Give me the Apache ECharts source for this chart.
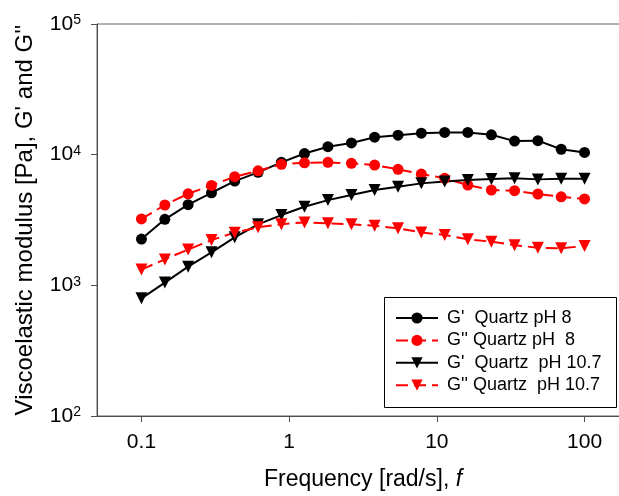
<!DOCTYPE html>
<html>
<head>
<meta charset="utf-8">
<script src="https://cdn.jsdelivr.net/npm/echarts@6/dist/echarts.min.js"></script>
<style>
  html, body { margin: 0; padding: 0; background: #fff; }
  #chart { width: 619px; height: 496px; }
</style>
</head>
<body>
<div id="chart"></div>
<script>
// frequency points [rad/s]
var freq = [0.1, 0.144, 0.207, 0.298, 0.428, 0.616, 0.886, 1.27, 1.83, 2.64,
  3.79, 5.46, 7.85, 11.3, 16.2, 23.4, 33.6, 48.3, 69.5, 100]
// G' and G'' [Pa]
var gp8 = [2260, 3200, 4140, 5110, 6280, 7320, 8730, 10200, 11500, 12300,
  13600, 14100, 14600, 14800, 14800, 14200, 12700, 12800, 11000, 10400]
var gpp8 = [3220, 4120, 5020, 5820, 6780, 7530, 8430, 8670, 8730, 8580,
  8330, 7720, 7110, 6590, 5850, 5360, 5300, 5000, 4760, 4580]
var gp107 = [795, 1050, 1390, 1790, 2330, 2930, 3450, 3990, 4490, 4910,
  5360, 5680, 6030, 6230, 6390, 6510, 6590, 6470, 6540, 6540]
var gpp107 = [1320, 1580, 1880, 2220, 2530, 2780, 2940, 3030, 2980, 2930,
  2860, 2730, 2540, 2430, 2250, 2160, 2030, 1940, 1920, 2000]
var xTicks = [0.1, 1, 10, 100]
var yTicks = [100, 1000, 10000, 100000]
var names = ["G'  Quartz pH 8", "G'' Quartz pH  8", "G'  Quartz  pH 10.7", "G'' Quartz  pH 10.7"]

var font = '"Liberation Sans", Arial, sans-serif'
var axisColor = '#4d4d4d'

function pairs (ys) {
  return freq.map(function (f, i) { return [f, ys[i]] })
}

function makeSeries (name, ys, color, symbol, dashed) {
  return {
    name: name,
    type: 'line',
    data: pairs(ys),
    symbol: symbol,
    symbolSize: symbol === 'circle' ? 11 : 12,
    symbolRotate: symbol === 'triangle' ? 180 : 0,
    itemStyle: { color: color },
    lineStyle: { color: color, width: 2, type: dashed ? [12, 6] : 'solid' },
    emphasis: { disabled: true },
    animation: false
  }
}

var chart = echarts.init(document.getElementById('chart'))
chart.setOption({
  backgroundColor: '#fff',
  textStyle: { fontFamily: font },
  // plot runs past the right edge of the picture (max 200)
  grid: {
    left: 97,
    top: 24,
    width: 532,
    height: 392,
    outerBoundsMode: 'none',
    containLabel: false,
    show: true,
    borderColor: '#666',
    borderWidth: 1
  },
  xAxis: {
    type: 'log',
    logBase: 10,
    min: 0.05,
    max: 200,
    name: 'Frequency [rad/s], {i|f}',
    nameLocation: 'middle',
    nameGap: 52,
    nameTextStyle: {
      fontSize: 23,
      color: '#000',
      fontFamily: font,
      rich: { i: { fontSize: 23, fontStyle: 'italic', color: '#000', fontFamily: font } }
    },
    axisLine: { show: true, lineStyle: { color: axisColor, width: 1 } },
    axisTick: { show: true, inside: false, length: 6, lineStyle: { color: axisColor }, customValues: xTicks },
    axisLabel: {
      fontSize: 21,
      color: '#000',
      margin: 16,
      customValues: xTicks,
      formatter: function (v) { return String(v) }
    },
    splitLine: { show: false },
    minorTick: { show: false }
  },
  yAxis: {
    type: 'log',
    logBase: 10,
    min: 100,
    max: 100000,
    name: "Viscoelastic modulus [Pa], G' and G''",
    nameLocation: 'middle',
    nameGap: 60,
    nameTextStyle: { fontSize: 24, color: '#000', fontFamily: font },
    axisLine: { show: true, lineStyle: { color: axisColor, width: 1 } },
    axisTick: { show: true, inside: false, length: 6, lineStyle: { color: axisColor }, customValues: yTicks },
    axisLabel: {
      fontSize: 21,
      color: '#000',
      margin: 16,
      customValues: yTicks,
      formatter: function (v) {
        return '{b|10}{s|' + Math.round(Math.log10(v)) + '}'
      },
      rich: {
        b: { fontSize: 21, color: '#000', fontFamily: font, lineHeight: 21 },
        s: { fontSize: 14, color: '#000', fontFamily: font, verticalAlign: 'top', lineHeight: 14, padding: [0, 0, 6, 0] }
      }
    },
    splitLine: { show: false },
    minorTick: { show: false }
  },
  legend: {
    orient: 'vertical',
    left: 395,
    top: 308,
    itemWidth: 42,
    itemHeight: 14,
    itemGap: 2.4,
    padding: 0,
    selectedMode: false,
    data: names,
    textStyle: { fontSize: 18, color: '#000', fontFamily: font, lineHeight: 20, padding: [0, 0, 0, 4] }
  },
  graphic: [{
    type: 'rect',
    z: 3,
    shape: { x: 384.5, y: 297.5, width: 232, height: 110 },
    style: { fill: '#fff', stroke: '#000', lineWidth: 1 }
  }],
  series: [
    makeSeries(names[0], gp8, '#000', 'circle', false),
    makeSeries(names[1], gpp8, '#ff0000', 'circle', true),
    makeSeries(names[2], gp107, '#000', 'triangle', false),
    makeSeries(names[3], gpp107, '#ff0000', 'triangle', true)
  ]
})
</script>
</body>
</html>
